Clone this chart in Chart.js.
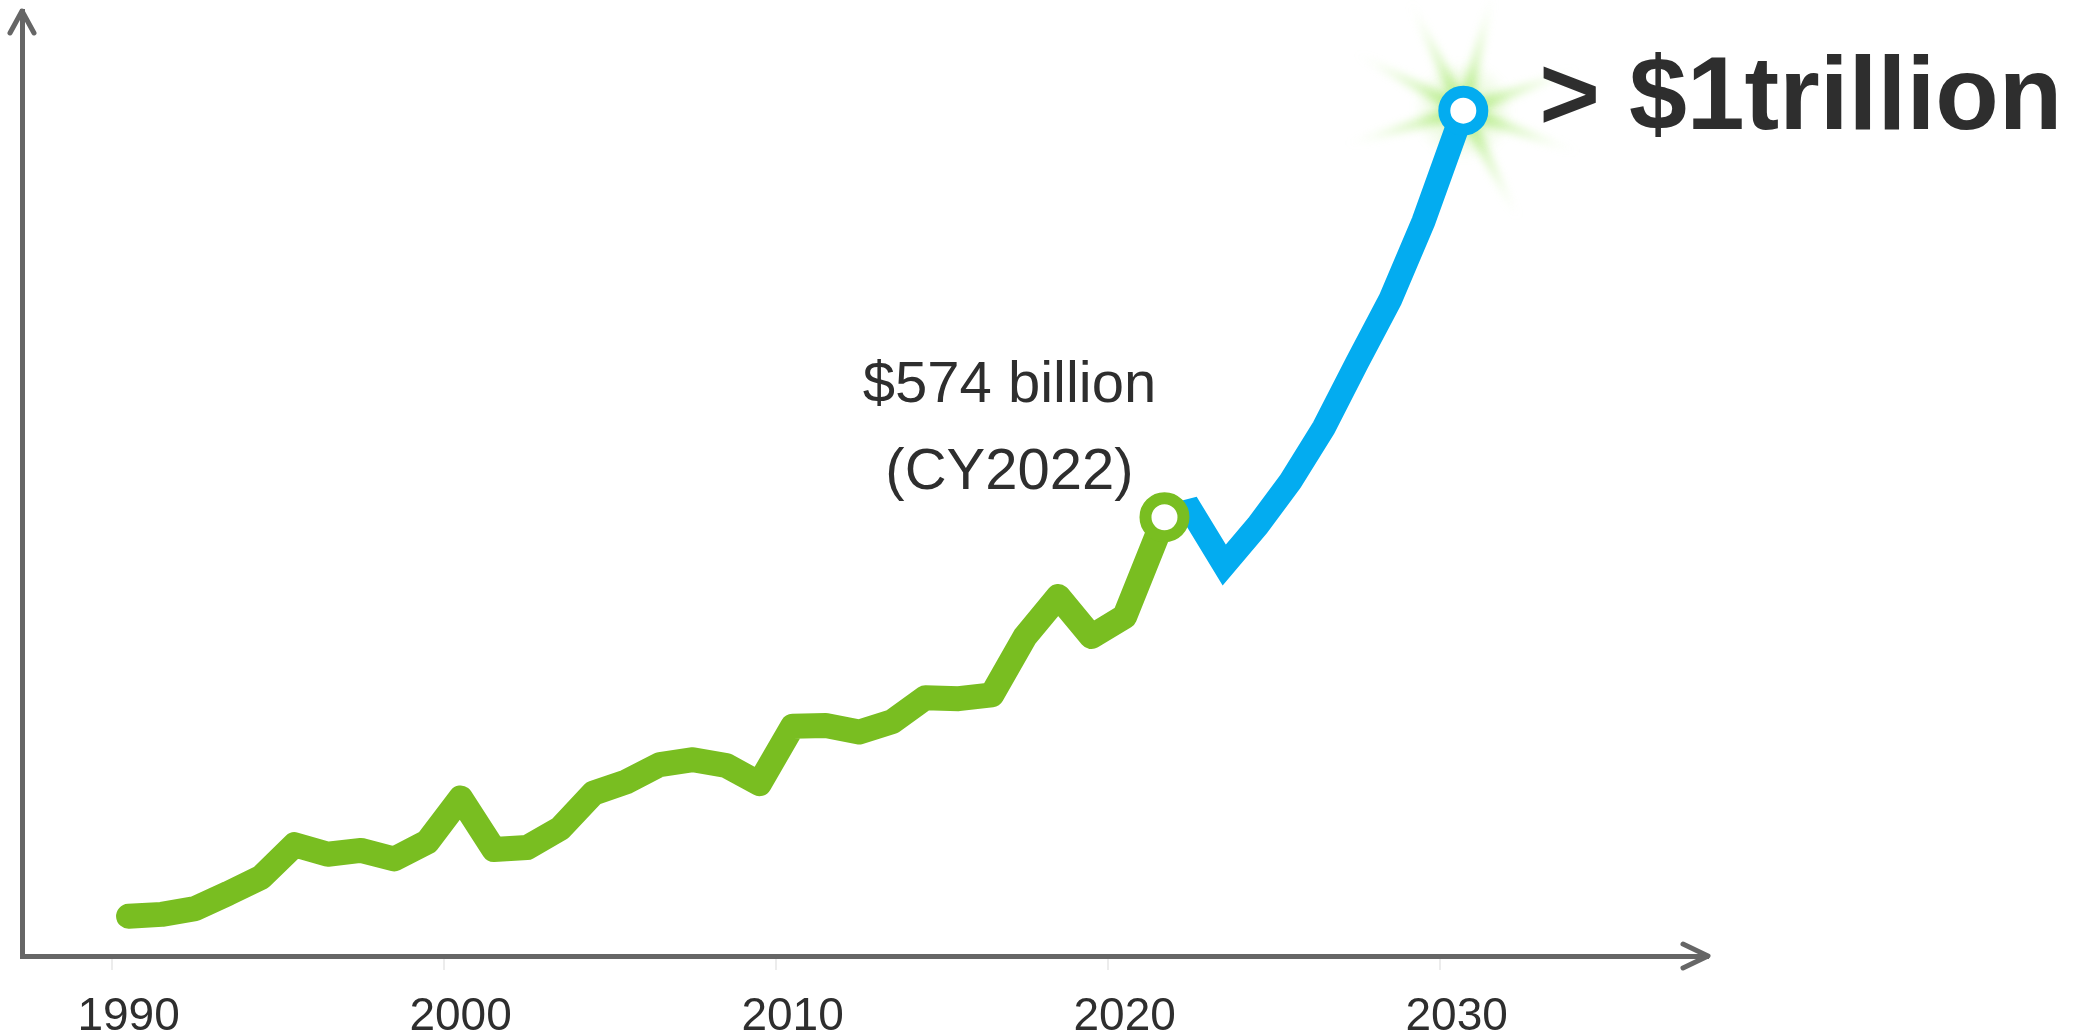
<!DOCTYPE html>
<html>
<head>
<meta charset="utf-8">
<title>Semiconductor sales outlook</title>
<script src="https://cdn.jsdelivr.net/npm/chart.js@4.4.1/dist/chart.umd.min.js"></script>
<style>
  html, body { margin: 0; padding: 0; background: #fff; }
  #wrap { width: 2098px; height: 1036px; position: relative; }
</style>
</head>
<body>
<div id="wrap"><canvas id="chart"></canvas></div>
<script>
/* ─────────────────────────────────────────────────────────────────
   Semiconductor sales — history (green) and outlook (blue), $ billions
   ───────────────────────────────────────────────────────────────── */

// ── Data ───────────────────────────────────────────────────────────
const histYears = [1990, 1991, 1992, 1993, 1994, 1995, 1996, 1997, 1998, 1999,
                   2000, 2001, 2002, 2003, 2004, 2005, 2006, 2007, 2008, 2009,
                   2010, 2011, 2012, 2013, 2014, 2015, 2016, 2017, 2018, 2019,
                   2020, 2021.2];
const histSales = [156, 158, 164, 180, 197, 231, 221, 225, 216, 234,
                   280, 226, 228, 248, 285, 297, 315, 320, 314, 295,
                   355, 356, 349, 360, 385, 384, 388, 449, 491, 449,
                   470, 574];

const fcstYears = [2021.2, 2022, 2023, 2024, 2025, 2026, 2027, 2028, 2029, 2030.2];
const fcstSales = [574, 581, 524, 565, 612, 668, 736, 802, 884, 1000];

const tickYears = [1990, 2000, 2010, 2020, 2030];
const gridYears = [1989.5, 1999.5, 2009.5, 2019.5, 2029.5];

const histNote = ['$574 billion', '(CY2022)'];
const fcstNote = '> $1trillion';

// ── Styles ─────────────────────────────────────────────────────────
const GREEN = '#79be21';
const BLUE  = '#03acf0';
const AXIS  = '#666666';
const INK   = '#2e2e2e';
const FONT  = "'Liberation Sans', Arial, sans-serif";

const toPoints = (xs, ys) => xs.map((x, i) => ({ x, y: ys[i] }));
const lastOnly = n => ctx => (ctx.dataIndex === n - 1 ? 19 : 0);

// soft green starburst behind the end marker
function drawGlow(ctx, x, y) {
  const rays = [-116, -76, -20, 20, 63, 110, 164, 208];
  const len = 124;
  ctx.save();
  ctx.filter = 'blur(4px)';
  const g = ctx.createRadialGradient(x, y, 0, x, y, len);
  g.addColorStop(0, 'rgba(140,225,70,0.60)');
  g.addColorStop(0.55, 'rgba(170,235,115,0.32)');
  g.addColorStop(1, 'rgba(205,245,170,0.04)');
  ctx.fillStyle = g;
  rays.forEach(deg => {
    const a = deg * Math.PI / 180;
    const ux = Math.cos(a), uy = Math.sin(a), w = 8;
    ctx.beginPath();
    ctx.moveTo(x - uy * w, y + ux * w);
    ctx.lineTo(x + ux * len, y + uy * len);
    ctx.lineTo(x + uy * w, y - ux * w);
    ctx.closePath();
    ctx.fill();
  });
  const core = ctx.createRadialGradient(x, y, 0, x, y, 50);
  core.addColorStop(0, 'rgba(150,228,80,0.40)');
  core.addColorStop(1, 'rgba(150,228,80,0)');
  ctx.fillStyle = core;
  ctx.beginPath();
  ctx.arc(x, y, 50, 0, Math.PI * 2);
  ctx.fill();
  ctx.restore();
}

function drawArrowHead(ctx, tip, wings) {
  ctx.save();
  ctx.strokeStyle = AXIS;
  ctx.lineWidth = 5;
  ctx.lineCap = 'round';
  ctx.lineJoin = 'round';
  ctx.beginPath();
  ctx.moveTo(wings[0][0], wings[0][1]);
  ctx.lineTo(tip[0], tip[1]);
  ctx.lineTo(wings[1][0], wings[1][1]);
  ctx.stroke();
  ctx.restore();
}

const decor = {
  id: 'decor',
  beforeDatasetsDraw(chart) {
    const top = chart.getDatasetMeta(1).data[fcstYears.length - 1];
    drawGlow(chart.ctx, top.x, top.y);
  },
  afterDraw(chart) {
    const { ctx, chartArea: a } = chart;
    // axis arrows
    drawArrowHead(ctx, [a.left, a.top], [[a.left - 12, a.top + 22], [a.left + 12, a.top + 22]]);
    drawArrowHead(ctx, [a.right, a.bottom], [[a.right - 25, a.bottom - 12], [a.right - 25, a.bottom + 12]]);

    // value callouts
    const h = chart.getDatasetMeta(0).data[histYears.length - 1];
    const f = chart.getDatasetMeta(1).data[fcstYears.length - 1];
    ctx.save();
    ctx.fillStyle = INK;
    ctx.textBaseline = 'alphabetic';
    ctx.textAlign = 'center';
    ctx.font = `58px ${FONT}`;
    ctx.fillText(histNote[0], h.x - 155, h.y - 115);
    ctx.fillText(histNote[1], h.x - 155, h.y - 28);
    ctx.textAlign = 'left';
    ctx.font = `bold 104px ${FONT}`;
    ctx.fillText(fcstNote, f.x + 76, f.y + 18);
    ctx.restore();
  }
};

new Chart(document.getElementById('chart'), {
  type: 'line',
  data: {
    datasets: [
      {
        label: 'Sales',
        data: toPoints(histYears, histSales),
        borderColor: GREEN,
        borderWidth: 25,
        borderCapStyle: 'round',
        borderJoinStyle: 'round',
        tension: 0,
        pointRadius: lastOnly(histYears.length),
        pointBorderWidth: 12,
        pointBorderColor: GREEN,
        pointBackgroundColor: '#ffffff',
        order: 0,
      },
      {
        label: 'Outlook',
        data: toPoints(fcstYears, fcstSales),
        borderColor: BLUE,
        borderWidth: 24,
        borderCapStyle: 'butt',
        borderJoinStyle: 'miter',
        tension: 0,
        pointRadius: lastOnly(fcstYears.length),
        pointBorderWidth: 12,
        pointBorderColor: BLUE,
        pointBackgroundColor: '#ffffff',
        order: 1,
      },
    ]
  },
  options: {
    responsive: true,
    maintainAspectRatio: false,
    animation: false,
    events: [],
    layout: { autoPadding: false, padding: { left: 22, right: 390, top: 11, bottom: 0 } },
    plugins: { legend: { display: false }, tooltip: { enabled: false } },
    scales: {
      x: {
        type: 'linear',
        position: 'bottom',
        weight: 0,
        min: 1986.79,
        max: 2037.57,
        afterBuildTicks: s => { s.ticks = gridYears.map(v => ({ value: v })); },
        afterFit: s => { s.height = 14; },
        ticks: { display: false },
        grid: { drawOnChartArea: false, drawTicks: true, tickLength: 14, color: '#ececec', lineWidth: 2 },
        border: { display: true, color: AXIS, width: 5 },
      },
      xl: {
        type: 'linear',
        position: 'bottom',
        weight: 1,
        min: 1986.79,
        max: 2037.57,
        afterBuildTicks: s => { s.ticks = tickYears.map(v => ({ value: v })); },
        afterFit: s => { s.height = 66; },
        ticks: {
          autoSkip: false,
          maxRotation: 0,
          padding: 12,
          color: INK,
          font: { family: FONT, size: 46 },
          callback: v => String(v),
        },
        grid: { display: false },
        border: { display: false },
      },
      y: {
        type: 'linear',
        position: 'left',
        min: 114.4,
        max: 1104.4,
        afterFit: s => { s.width = 0; },
        ticks: { display: false },
        grid: { display: false },
        border: { display: true, color: AXIS, width: 5 },
      }
    }
  },
  plugins: [decor]
});
</script>
</body>
</html>
